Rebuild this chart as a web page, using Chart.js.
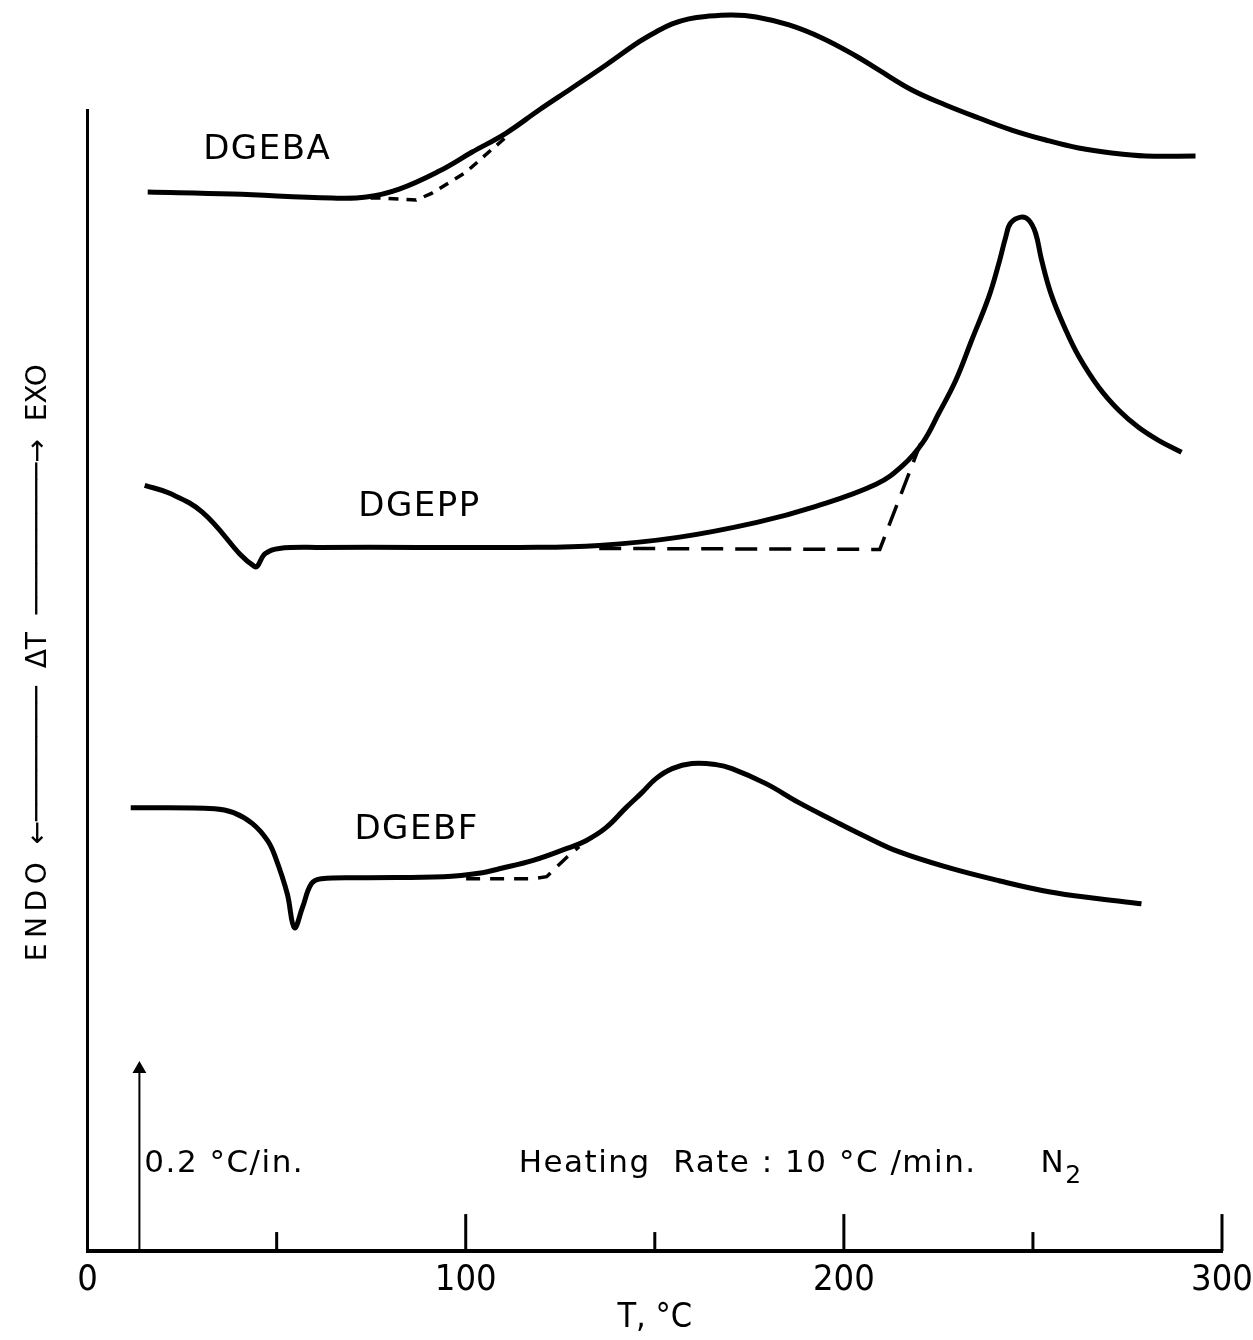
<!DOCTYPE html>
<html>
<head>
<meta charset="utf-8">
<script src="https://cdn.jsdelivr.net/npm/chart.js@4.4.1/dist/chart.umd.min.js"></script>
<style>
  html, body { margin: 0; padding: 0; background: #fff; }
  #wrap { width: 1253px; height: 1340px; }
</style>
</head>
<body>
<div id="wrap"><canvas id="dta"></canvas></div>
<script>
// DTA traces, T in °C, trace height in arbitrary units above the T axis
const dgebaT = [15.9, 38.3, 64.7, 73.7, 82.4, 93.0, 101.7, 110.7, 119.4, 128.1, 137.1, 145.8, 150.3, 154.6, 159.0, 163.5, 170.4, 176.8, 185.5, 194.2, 203.2, 209.2, 218.0, 226.9, 235.7, 244.4, 253.4, 262.1, 270.8, 279.8, 293.0];
const dgebaY = [105.8, 105.6, 105.2, 105.3, 106.1, 107.9, 109.8, 111.7, 114.0, 116.2, 118.5, 120.8, 121.8, 122.6, 123.1, 123.35, 123.5, 123.3, 122.5, 121.2, 119.4, 118.0, 116.0, 114.5, 113.2, 112.0, 111.0, 110.2, 109.7, 109.4, 109.4];
const dgebaBaseT = [65.3, 77.9, 86.9, 91.1, 100.1, 106.7, 110.7];
const dgebaBaseY = [105.2, 105.2, 105.0, 105.7, 107.8, 110.0, 111.3];

const dgeppT = [15.1, 21.7, 30.4, 44.1, 47.0, 50.7, 61.3, 87.7, 114.1, 135.3, 156.1, 177.0, 192.6, 208.5, 215.6, 220.9, 225.1, 229.6, 233.8, 238.3, 241.0, 242.8, 244.1, 246.8, 248.9, 250.7, 252.3, 254.9, 258.7, 262.1, 267.4, 272.7, 277.9, 283.2, 289.3];
const dgeppY = [76.5, 75.7, 73.8, 68.4, 69.7, 70.2, 70.3, 70.3, 70.3, 70.5, 71.3, 72.8, 74.4, 76.6, 78.5, 80.8, 83.7, 87.0, 91.0, 95.3, 98.7, 101.3, 102.7, 103.3, 103.0, 101.7, 99.0, 95.5, 92.0, 89.4, 86.3, 84.0, 82.3, 81.0, 79.8];
const dgeppBaseT = [135.3, 209.5, 220.3];
const dgeppBaseY = [70.2, 70.1, 80.7];

const dgebfT = [11.4, 33.6, 38.6, 43.6, 47.6, 49.7, 52.8, 54.7, 56.8, 59.2, 61.8, 74.0, 94.1, 104.4, 108.9, 117.6, 126.6, 131.8, 137.1, 142.4, 146.6, 150.3, 154.6, 159.8, 166.2, 170.4, 179.4, 188.1, 196.8, 205.8, 214.5, 227.7, 241.0, 254.2, 267.4, 278.7];
const dgebfY = [44.3, 44.2, 43.8, 42.7, 41.0, 39.3, 35.7, 32.3, 34.3, 36.7, 37.2, 37.3, 37.4, 37.8, 38.2, 39.0, 40.2, 41.0, 42.3, 44.3, 45.8, 47.2, 48.2, 48.7, 48.6, 48.2, 46.7, 44.8, 43.1, 41.4, 39.9, 38.3, 37.0, 35.9, 35.2, 34.7];
const dgebfBaseT = [100.1, 117.6, 121.4, 126.6, 130.0];
const dgebfBaseY = [37.2, 37.2, 37.4, 39.3, 40.4];

// 0.2 °C/in. sensitivity bar
const barT = [13.7, 13.7];
const barY = [0, 18.2];

const majorTicks = [100, 200, 300];
const minorTicks = [50, 150, 250];

const curveNames = ['DGEBA', 'DGEPP', 'DGEBF'];
const nameT = [47.5, 87.8, 87.0];
const nameY = [110.0, 74.3, 42.0];

const noteText = ['0.2 °C/in.', 'Heating  Rate : 10 °C /min.', 'N'];
const noteT = [15.0, 114.0, 252.0];
const noteY = [8.7, 8.7, 8.7];

const pts = (xs, ys) => xs.map((x, i) => ({ x: x, y: ys[i] }));

const narrow = "'Liberation Sans Narrow', 'DejaVu Sans Condensed', 'Liberation Sans'";

function solid(data) {
    return { data: data, borderColor: '#000', borderWidth: 5, pointRadius: 0,
             tension: 0.4, clip: false };
}
function dashed(data, dash) {
    return { data: data, borderColor: '#000', borderWidth: 3.5, pointRadius: 0,
             borderDash: dash, tension: 0, clip: false };
}

// tick marks drawn inward from the T axis
const innerTicks = {
    id: 'innerTicks',
    afterDraw(chart) {
        const xs = chart.scales.x;
        const ctx = chart.ctx;
        const base = chart.chartArea.bottom;
        ctx.save();
        ctx.strokeStyle = '#000';
        ctx.lineWidth = 3;
        const mark = (v, len) => {
            const px = xs.getPixelForValue(v);
            ctx.beginPath();
            ctx.moveTo(px, base);
            ctx.lineTo(px, base - len);
            ctx.stroke();
        };
        majorTicks.forEach(v => mark(v, 37));
        minorTicks.forEach(v => mark(v, 19));
        ctx.restore();
    }
};

// curve names and run notes
const notes = {
    id: 'notes',
    afterDraw(chart) {
        const xs = chart.scales.x, ys = chart.scales.y, ctx = chart.ctx;
        ctx.save();
        ctx.fillStyle = '#000';
        ctx.textBaseline = 'middle';
        ctx.textAlign = 'center';
        ctx.letterSpacing = '1.5px';
        ctx.font = "34px 'DejaVu Sans'";
        curveNames.forEach((t, i) => {
            ctx.fillText(t, xs.getPixelForValue(nameT[i]), ys.getPixelForValue(nameY[i]));
        });
        ctx.textAlign = 'left';
        ctx.font = "31px 'DejaVu Sans'";
        noteText.forEach((t, i) => {
            ctx.fillText(t, xs.getPixelForValue(noteT[i]), ys.getPixelForValue(noteY[i]));
        });
        // subscript of N2
        const nx = xs.getPixelForValue(noteT[2]) + ctx.measureText('N').width;
        ctx.font = "25px 'DejaVu Sans'";
        ctx.fillText('2', nx, ys.getPixelForValue(noteY[2]) + 13);
        ctx.restore();
    }
};

new Chart(document.getElementById('dta'), {
    type: 'line',
    data: {
        datasets: [
            solid(pts(dgebaT, dgebaY)),
            dashed(pts(dgebaBaseT, dgebaBaseY), [10, 8]),
            solid(pts(dgeppT, dgeppY)),
            dashed(pts(dgeppBaseT, dgeppBaseY), [22, 12]),
            solid(pts(dgebfT, dgebfY)),
            dashed(pts(dgebfBaseT, dgebfBaseY), [14, 10]),
            {
                data: pts(barT, barY), borderColor: '#000', backgroundColor: '#000',
                borderWidth: 2, pointStyle: 'triangle', pointRadius: [0, 6], clip: false
            }
        ]
    },
    options: {
        responsive: true,
        maintainAspectRatio: false,
        animation: false,
        layout: { padding: { top: 110, left: 22, right: 31, bottom: 0 } },
        plugins: {
            legend: { display: false },
            tooltip: { enabled: false }
        },
        scales: {
            x: {
                type: 'linear',
                min: 0,
                max: 300,
                afterFit: axis => { axis.paddingRight = 0; axis.paddingLeft = 0; },
                grid: { display: false, drawTicks: false },
                border: { display: true, color: '#000', width: 4 },
                ticks: {
                    stepSize: 50,
                    autoSkip: false,
                    maxRotation: 0,
                    padding: 12,
                    color: '#000',
                    font: { family: narrow, size: 36, lineHeight: 1 },
                    callback: v => (v % 100 === 0 ? String(v) : '')
                },
                title: {
                    display: true,
                    text: 'T, °C',
                    color: '#000',
                    font: { family: narrow, size: 34, lineHeight: 0.41 },
                    padding: { top: 0, bottom: 15 }
                }
            },
            y: {
                type: 'linear',
                min: 0,
                max: 114,
                grid: { display: false, drawTicks: false },
                border: { display: true, color: '#000', width: 3 },
                ticks: { display: false },
                title: {
                    display: true,
                    text: '    E\u2009N\u2009D\u2009O  ←────────  ΔT  ─────────→  EXO',
                    color: '#000',
                    font: { family: 'DejaVu Sans', size: 28, lineHeight: 1.2 },
                    padding: { top: 0, bottom: 32 }
                }
            }
        }
    },
    plugins: [innerTicks, notes]
});
</script>
</body>
</html>
